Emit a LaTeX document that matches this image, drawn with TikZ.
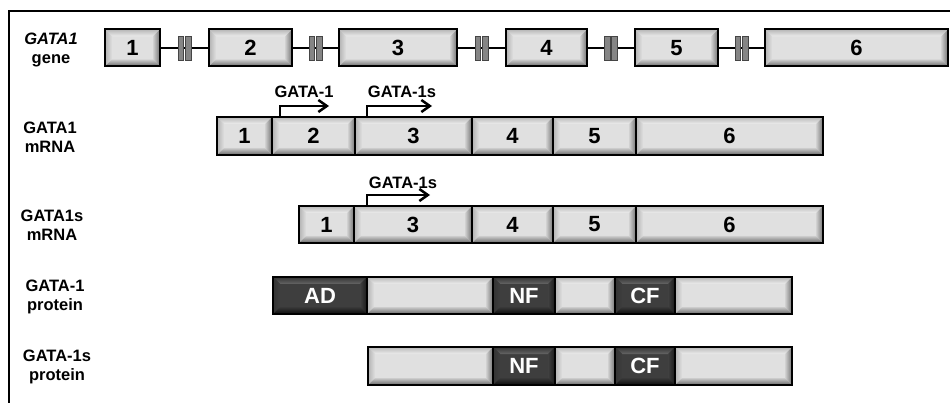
\documentclass[tikz,border=0pt]{standalone}
\usepackage{fontspec}
\setmainfont{Liberation Sans}
\usetikzlibrary{arrows.meta,calc}
\definecolor{lite}{HTML}{E0E0E0}
\definecolor{darkc}{HTML}{3E3E3E}
\definecolor{barc}{HTML}{858585}
\definecolor{baredge}{HTML}{454545}
\tikzset{
  bevelpaths/.style n args={8}{path picture={
    \coordinate (bNW) at (path picture bounding box.north west);
    \coordinate (bNE) at (path picture bounding box.north east);
    \coordinate (bSW) at (path picture bounding box.south west);
    \coordinate (bSE) at (path picture bounding box.south east);
    \shade[top color=#1, bottom color=#2] (bNW) -- (bNE) -- ([shift={(-7pt,-7pt)}]bNE) -- ([shift={(7pt,-7pt)}]bNW) -- cycle;
    \shade[left color=#3, right color=#4] (bNW) -- ([shift={(7pt,-7pt)}]bNW) -- ([shift={(7pt,7pt)}]bSW) -- (bSW) -- cycle;
    \shade[left color=#5, right color=#6] (bNE) -- ([shift={(-7pt,-7pt)}]bNE) -- ([shift={(-7pt,7pt)}]bSE) -- (bSE) -- cycle;
    \shade[top color=#7, bottom color=#8] (bSW) -- ([shift={(7pt,7pt)}]bSW) -- ([shift={(-7pt,7pt)}]bSE) -- (bSE) -- cycle;
  }},
  exon/.style={draw=black, line width=2pt, fill=lite, inner sep=0pt, outer sep=0pt,
    font=\fontsize{22}{24}\selectfont\bfseries,
    bevelpaths={white!72!black}{white!93!black}{white!70!black}{lite}{white!82!black}{white!45!black}{white!80!black}{white!40!black}},
  dom/.style={exon, fill=darkc, text=white,
    bevelpaths={white!20!black}{white!40!black}{white!20!black}{darkc}{white!25!black}{white!10!black}{white!22!black}{white!5!black}},
  intron/.style={line width=1.8pt, black},
  brkbar/.style={fill=barc, draw=baredge, line width=0.9pt},
  promo/.style={line width=2.5pt, -{Straight Barb[length=8.5pt, width=12pt, line width=2.5pt]}},
  lbl/.style={font=\fontsize{16.5}{18.5}\selectfont\bfseries, inner sep=0pt},
  side/.style={lbl, align=center},
}
\newcommand\seg[7]{\node[#6, minimum width={(#3)-(#2)}, minimum height={(#5)-(#4)}] (#1) at ({((#2)+(#3))/2},{((#4)+(#5))/2}) {#7};}
\newcommand\brk[3]{%
  \coordinate (#1) at ($(#2.east)!0.5!(#3.west)$);
  \draw[brkbar] ([shift={(-6.5pt,12pt)}]#1) rectangle ([shift={(-0.7pt,-12pt)}]#1);
  \draw[brkbar] ([shift={(0.7pt,12pt)}]#1) rectangle ([shift={(6.5pt,-12pt)}]#1);
}
\begin{document}
\begin{tikzpicture}[x=1pt,y=-1pt]
\useasboundingbox (0,0) rectangle (950,403);
% frame
\draw[line width=2pt] (9,404) -- (9,11) -- (951,11);

% gene
\seg{g1}{105}{160}{29.5}{66.5}{exon}{1}
\seg{g2}{209}{292}{29.5}{66.5}{exon}{2}
\seg{g3}{339}{457}{29.5}{66.5}{exon}{3}
\seg{g4}{506}{587}{29.5}{66.5}{exon}{4}
\seg{g5}{635}{718}{29.5}{66.5}{exon}{5}
\seg{g6}{765}{948}{29.5}{66.5}{exon}{6}
\draw[intron] (g1.east) -- (g2.west);
\draw[intron] (g2.east) -- (g3.west);
\draw[intron] (g3.east) -- (g4.west);
\draw[intron] (g4.east) -- (g5.west);
\draw[intron] (g5.east) -- (g6.west);
\brk{b1}{g1}{g2}
\brk{b2}{g2}{g3}
\brk{b3}{g3}{g4}
\brk{b4}{g4}{g5}
\brk{b5}{g5}{g6}

% GATA1 mRNA
\seg{m1}{217}{272}{117}{155}{exon}{1}
\seg{m2}{272}{355}{117}{155}{exon}{2}
\seg{m3}{355}{472}{117}{155}{exon}{3}
\seg{m4}{472}{553}{117}{155}{exon}{4}
\seg{m5}{553}{636}{117}{155}{exon}{5}
\seg{m6}{636}{823}{117}{155}{exon}{6}
\draw[promo] ([xshift=8pt]m2.north west) -- ++(0,-11) -- ++(49,0);
\draw[promo] ([xshift=12pt]m3.north west) -- ++(0,-11) -- ++(65,0);
\node[lbl] (t1) at (304,92) {GATA-1};
\node[lbl] (t2) at (402,92) {GATA-1s};

% GATA1s mRNA
\seg{s1}{299}{354}{206}{243}{exon}{1}
\seg{s3}{354}{472}{206}{243}{exon}{3}
\seg{s4}{472}{553}{206}{243}{exon}{4}
\seg{s5}{553}{636}{206}{243}{exon}{5}
\seg{s6}{636}{823}{206}{243}{exon}{6}
\draw[promo] ([xshift=13pt]s3.north west) -- ++(0,-11) -- ++(63,0);
\node[lbl] (t3) at (403,182.5) {GATA-1s};

% GATA-1 protein
\seg{p1}{273}{367}{277}{314}{dom}{AD}
\seg{p2}{367}{493}{277}{314}{exon}{}
\seg{p3}{493}{555}{277}{314}{dom}{NF}
\seg{p4}{555}{615}{277}{314}{exon}{}
\seg{p5}{615}{675}{277}{314}{dom}{CF}
\seg{p6}{675}{792}{277}{314}{exon}{}

% GATA-1s protein
\seg{q2}{368}{493}{347}{385}{exon}{}
\seg{q3}{493}{555}{347}{385}{dom}{NF}
\seg{q4}{555}{615}{347}{385}{exon}{}
\seg{q5}{615}{675}{347}{385}{dom}{CF}
\seg{q6}{675}{792}{347}{385}{exon}{}

% side labels
\node[side] (lg) at (51,50) {\itshape GATA1\\gene};
\node[side] (lm) at (50,137) {GATA1\\mRNA};
\node[side] (ls) at (52,225) {GATA1s\\mRNA};
\node[side] (lp) at (55,297) {GATA-1\\protein};
\node[side] (lq) at (57,367) {GATA-1s\\protein};
\end{tikzpicture}
\end{document}
